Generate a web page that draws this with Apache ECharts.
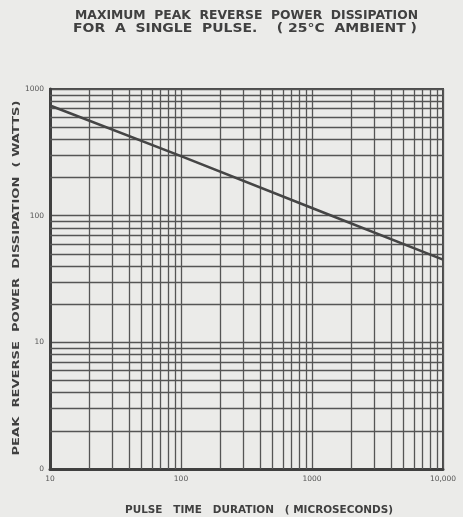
<!DOCTYPE html>
<html>
<head>
<meta charset="utf-8">
<script src="https://cdn.jsdelivr.net/npm/echarts@6/dist/echarts.min.js"></script>
<style>
  html, body { margin: 0; padding: 0; background: #ebebe9; }
  #chart { width: 463px; height: 517px; }
</style>
</head>
<body>
<div id="chart"></div>
<script>
// Pulse duration (microseconds) and peak reverse power (watts), log-log
const pulseTime = [10, 100, 1000, 10000];
const peakPower = [740, 295, 115, 45];

// Tick labels as printed on the axes
const xTickLabels = { 10: '10', 100: '100', 1000: '1000', 10000: '10,000' };
const yTickLabels = { 1: '0', 10: '10', 100: '100', 1000: '1000' };

// Intermediate decade gridlines (2..9 within each decade)
const xDecades = [10, 100, 1000];
const yDecades = [1, 10, 100];
const minorSteps = [2, 3, 4, 5, 6, 7, 8, 9];

const titleLines = [
  'MAXIMUM  PEAK  REVERSE  POWER  DISSIPATION',
  'FOR  A  SINGLE  PULSE.    ( 25°C  AMBIENT )'
];
const xName = 'PULSE   TIME   DURATION   ( MICROSECONDS)';
const yName = 'PEAK  REVERSE  POWER  DISSIPATION  ( WATTS)';

const gridColor = '#555555';
const inkColor = '#404040';
const font = 'DejaVu Sans';

const xMinor = [];
xDecades.forEach(d => minorSteps.forEach(s => xMinor.push(d * s)));
const yMinor = [];
yDecades.forEach(d => minorSteps.forEach(s => yMinor.push(d * s)));

const minorLines = [
  ...xMinor.map(v => ({ xAxis: v })),
  ...yMinor.map(v => ({ yAxis: v }))
];

// Wide hand-lettered look: stretch a text along its baseline to a target length
const ctx = document.createElement('canvas').getContext('2d');
function stretched(text, size, cx, cy, length, rotation) {
  const f = 'bold ' + size + 'px "' + font + '"';
  ctx.font = f;
  const w = ctx.measureText(text).width;
  return {
    type: 'text',
    x: cx, y: cy,
    rotation: rotation || 0,
    scaleX: length / w,
    scaleY: 1,
    style: {
      text: text,
      font: f,
      fill: inkColor,
      align: 'center',
      verticalAlign: 'middle'
    },
    silent: true
  };
}

const chart = echarts.init(document.getElementById('chart'));
chart.setOption({
  backgroundColor: '#ebebe9',
  animation: false,
  graphic: [
    stretched(titleLines[0], 11.5, 246.5, 16, 343),
    stretched(titleLines[1], 11.5, 245, 29.5, 344),
    stretched(xName, 10, 259, 510, 268),
    stretched(yName, 9.5, 17, 278, 355, Math.PI / 2)
  ],
  grid: { left: 50, right: 20, top: 89, bottom: 48, show: true, borderColor: '#4a4a4a', borderWidth: 2 },
  xAxis: {
    type: 'log',
    logBase: 10,
    min: 10,
    max: 10000,
    axisLine: { show: true, lineStyle: { color: '#404040', width: 3 } },
    axisTick: { show: false },
    axisLabel: {
      fontFamily: font, fontSize: 7.5, color: '#555', margin: 6,
      formatter: v => xTickLabels[Math.round(v)] || ''
    },
    splitLine: { show: true, lineStyle: { color: gridColor, width: 1.3 } }
  },
  yAxis: {
    type: 'log',
    logBase: 10,
    min: 1,
    max: 1000,
    axisLine: { show: true, lineStyle: { color: '#404040', width: 3 } },
    axisTick: { show: false },
    axisLabel: {
      fontFamily: font, fontSize: 7.5, color: '#555', margin: 6,
      formatter: v => yTickLabels[Math.round(v)] || ''
    },
    splitLine: { show: true, lineStyle: { color: gridColor, width: 1.3 } }
  },
  series: [
    {
      name: 'grid',
      type: 'line',
      data: [],
      silent: true,
      z: 1,
      markLine: {
        silent: true,
        symbol: 'none',
        label: { show: false },
        lineStyle: { color: gridColor, width: 1.3, type: 'solid' },
        data: minorLines
      }
    },
    {
      name: 'Peak power',
      type: 'line',
      data: pulseTime.map((t, i) => [t, peakPower[i]]),
      showSymbol: false,
      z: 5,
      lineStyle: { color: '#454545', width: 2.6 }
    }
  ]
});
</script>
</body>
</html>
